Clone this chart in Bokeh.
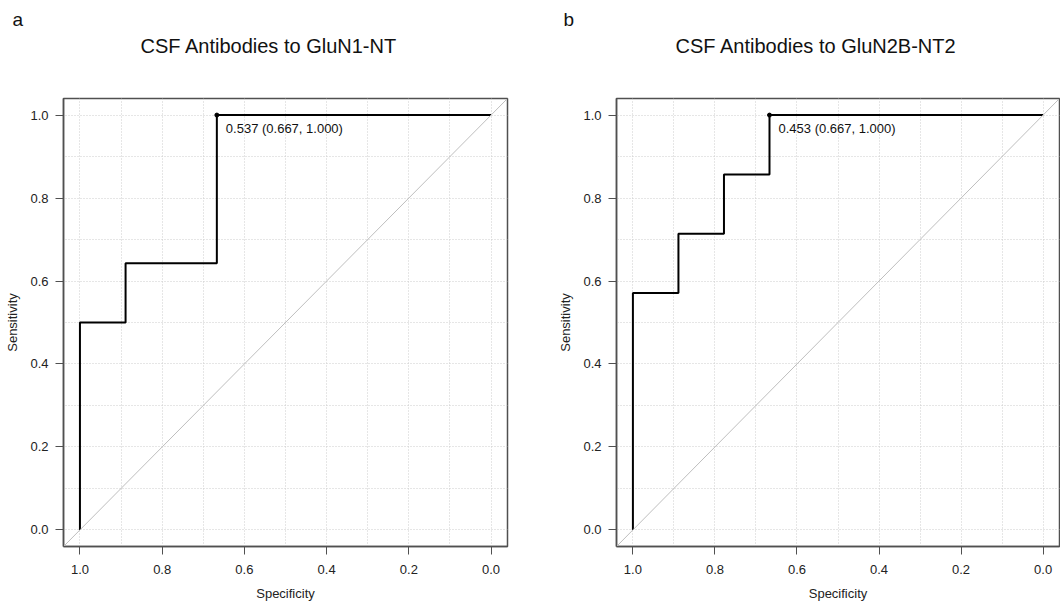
from bokeh.plotting import figure
from bokeh.layouts import row
from bokeh.models import Range1d, FixedTicker, NumeralTickFormatter, Slope, Title
from bokeh.core.properties import value
from bokeh.embed import file_html
from bokeh.resources import INLINE

# ---- data ----
panel_letters = ["a", "b"]
titles = ["CSF Antibodies to GluN1-NT", "CSF Antibodies to GluN2B-NT2"]
spec_a = [1.0, 1.0, 0.889, 0.889, 0.667, 0.667, 0.0]
sens_a = [0.0, 0.5, 0.5, 0.643, 0.643, 1.0, 1.0]
spec_b = [1.0, 1.0, 0.889, 0.889, 0.778, 0.778, 0.667, 0.667, 0.0]
sens_b = [0.0, 0.571, 0.571, 0.714, 0.714, 0.857, 0.857, 1.0, 1.0]
best_threshold = [0.537, 0.453]
best_spec = [0.667, 0.667]
best_sens = [1.000, 1.000]
axis_ticks = [0.0, 0.2, 0.4, 0.6, 0.8, 1.0]
grid_ticks = [0.0, 0.1, 0.2, 0.3, 0.4, 0.5, 0.6, 0.7, 0.8, 0.9, 1.0]

FONT = "Liberation Sans"
BOX = "#505050"


def make_panel(i, spec, sens, width, b_left, b_right, title_off, letter_off):
    p = figure(width=width, height=603,
               x_range=Range1d(1.04, -0.04), y_range=Range1d(-0.04, 1.04),
               min_border_left=b_left, min_border_right=b_right,
               min_border_top=98, min_border_bottom=56,
               output_backend="svg", toolbar_location=None,
               background_fill_color="white", border_fill_color="white",
               outline_line_color=BOX, outline_line_width=1.5)

    xa = p.below[0]
    ya = p.left[0]
    for ax in (xa, ya):
        ax.ticker = FixedTicker(ticks=axis_ticks)
        ax.formatter = NumeralTickFormatter(format="0.0")
        ax.axis_line_color = BOX
        ax.axis_line_width = 1.5
        ax.major_tick_line_color = BOX
        ax.major_tick_line_width = 1
        ax.major_tick_out = 8
        ax.major_tick_in = 0
        ax.minor_tick_line_color = None
        ax.major_label_text_font = FONT
        ax.major_label_text_font_size = "13px"
        ax.major_label_text_color = "#222222"
        ax.axis_label_text_font = FONT
        ax.axis_label_text_font_size = "13px"
        ax.axis_label_text_font_style = "normal"
        ax.axis_label_text_color = "#222222"
    xa.axis_label = "Specificity"
    ya.axis_label = "Sensitivity"
    xa.major_label_standoff = 10
    xa.axis_label_standoff = 9
    ya.major_label_standoff = 7
    ya.axis_label_standoff = 7

    p.xgrid.ticker = FixedTicker(ticks=grid_ticks)
    p.ygrid.ticker = FixedTicker(ticks=grid_ticks)
    for g in (p.xgrid, p.ygrid):
        g.grid_line_color = "#cccccc"
        g.grid_line_dash = "1 2"
        g.grid_line_width = 1

    p.add_layout(Slope(gradient=-1, y_intercept=1, line_color="#bebebe", line_width=1))
    p.line(spec, sens, line_color="black", line_width=2)
    p.scatter([best_spec[i]], [best_sens[i]], size=4, color="black")
    lbl = "%.3f (%.3f, %.3f)" % (best_threshold[i], best_spec[i], best_sens[i])
    p.text(x=[best_spec[i]], y=[best_sens[i]], text=[lbl], x_offset=9, y_offset=6,
           text_align="left", text_baseline="top", text_font=value(FONT),
           text_font_size="13px", text_color="#111111")

    # stack above the frame: spacer (closest), main title, panel letter (outermost)
    p.add_layout(Title(text=" ", align="left", standoff=38, text_font=FONT,
                       text_font_size="1px"), "above")
    p.add_layout(Title(text=titles[i], align="left", offset=title_off, standoff=2,
                       text_font=FONT, text_font_size="20px", text_font_style="normal",
                       text_color="#111111"), "above")
    p.title = Title(text=panel_letters[i], align="left", offset=letter_off, standoff=4,
                    text_font=FONT, text_font_size="19px", text_font_style="normal",
                    text_color="#111111")
    return p


p1 = make_panel(0, spec_a, sens_a, 530, 63, 23, 77, -51)
p2 = make_panel(1, spec_b, sens_b, 530, 86, 1, 59, -53)

layout = row(p1, p2, spacing=0)
open("out.html", "w").write(file_html(layout, INLINE))
